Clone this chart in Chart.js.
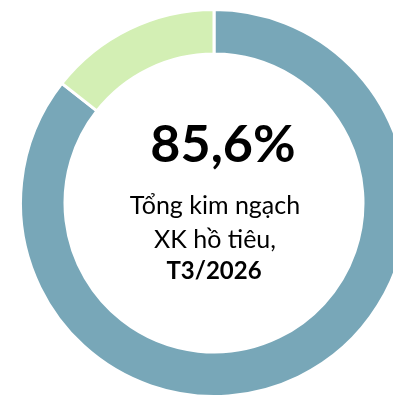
<!DOCTYPE html>
<html>
<head>
<meta charset="utf-8">
<script src="https://cdn.jsdelivr.net/npm/chart.js@4/dist/chart.umd.min.js"></script>
<style>
    html, body { margin: 0; padding: 0; background: #fff; overflow: hidden; }
    body { width: 393px; height: 399px; position: relative; }
    #wrap { position: absolute; left: 19px; top: 8px; width: 390px; height: 390px; }
</style>
</head>
<body>
<div id="wrap"><canvas id="pepperChart"></canvas></div>
<script>
const labels = ['Hồ tiêu', 'Khác'];
const shares = [85.6, 14.4];
const colors = ['#78a7b8', '#d3efb4'];
const centerTitle = '85,6%';
const centerLines = ['Tổng kim ngạch', 'XK hồ tiêu,'];
const centerPeriod = 'T3/2026';

// center caption drawn inside the ring
const centerText = {
    id: 'centerText',
    afterDraw(chart) {
        const meta = chart.getDatasetMeta(0).data[0];
        const cx = meta.x, cy = meta.y;
        const ctx = chart.ctx;
        ctx.save();
        ctx.fillStyle = '#000';
        ctx.textAlign = 'center';
        ctx.textBaseline = 'alphabetic';
        ctx.font = 'bold 52px Lato';
        ctx.fillText(centerTitle, cx + 9, cy - 41);
        ctx.font = '25px Lato';
        ctx.fillText(centerLines[0], cx + 1, cy + 11);
        ctx.fillText(centerLines[1], cx + 1, cy + 45);
        ctx.font = 'bold 24px Lato';
        ctx.fillText(centerPeriod, cx, cy + 76);
        ctx.restore();
    }
};

new Chart(document.getElementById('pepperChart').getContext('2d'), {
    type: 'doughnut',
    data: {
        labels: labels,
        datasets: [{
            data: shares,
            backgroundColor: colors,
            borderColor: '#fff',
            borderWidth: 3
        }]
    },
    options: {
        responsive: true,
        maintainAspectRatio: false,
        animation: false,
        cutout: '77%',
        layout: { padding: 0 },
        plugins: {
            legend: { display: false },
            tooltip: { enabled: false }
        }
    },
    plugins: [centerText]
});
</script>
</body>
</html>
